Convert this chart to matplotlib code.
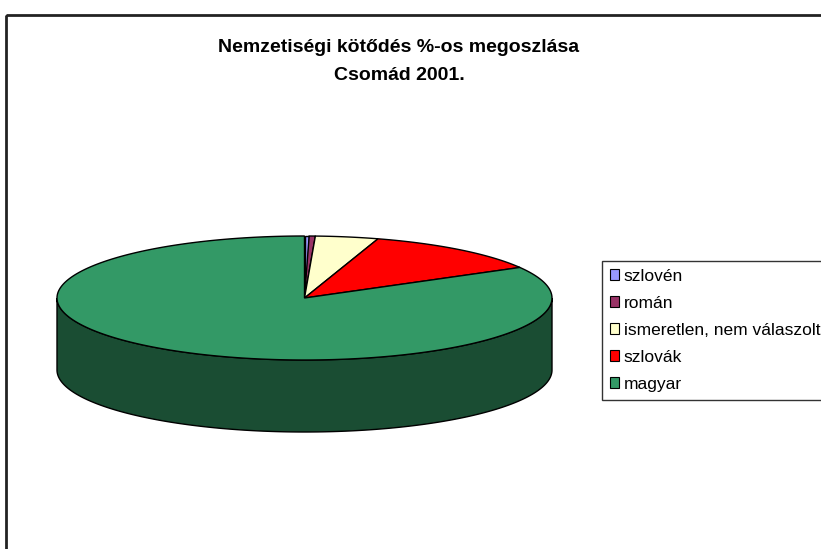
import numpy as np
import matplotlib
matplotlib.use("Agg")
import matplotlib.pyplot as plt
from matplotlib.patches import Polygon, Rectangle
import matplotlib.colors as mcolors

plt.rcParams['font.family'] = ['Liberation Sans', 'DejaVu Sans']

# dane (%)
kategorie = ['szlovén', 'román', 'ismeretlen, nem válaszolt', 'szlovák', 'magyar']
wartosci = [0.3, 0.4, 4.1, 12.0, 83.2]
kolory = ['#9999FF', '#993366', '#FFFFCC', '#FF0000', '#339966']

tytul = ["Nemzetiségi kötődés %-os megoszlása", "Csomád 2001."]

fig = plt.figure(figsize=(8.21, 5.49), dpi=100)
ax = fig.add_axes([0, 0, 1, 1])
ax.set_xlim(0, 821)
ax.set_ylim(549, 0)
ax.axis('off')

# ramka wykresu
ax.add_patch(Rectangle((6, 15), 900, 600, fill=False, edgecolor='#222222', lw=2))

# geometria tortu 3D
cx, cy, a, b, glebokosc = 304.5, 298, 247.5, 62, 72

def punkt(t, dy=0):
    t = np.radians(t)
    return np.column_stack([cx + a * np.cos(t), cy - b * np.sin(t) + dy])

udzialy = np.array(wartosci) / sum(wartosci)
granice = 90 - 360 * np.concatenate([[0], np.cumsum(udzialy)])

# boki (tylko przednia połowa)
for i in range(len(wartosci)):
    t1, t2 = granice[i], granice[i + 1]
    for lo, hi in [(-180, 0), (180, 360), (-540, -360)]:
        s, e = max(t2, lo), min(t1, hi)
        if e > s:
            tt = np.linspace(s, e, 200)
            gora = punkt(tt)
            dol = punkt(tt[::-1], glebokosc)
            ciemny = np.array(mcolors.to_rgb(kolory[i])) * 0.5
            ax.add_patch(Polygon(np.vstack([gora, dol]), closed=True,
                                 facecolor=ciemny, edgecolor='black', lw=1))

# wierzch
uchwyty = []
for i in range(len(wartosci)):
    tt = np.linspace(granice[i], granice[i + 1], 300)
    pts = np.vstack([[cx, cy], punkt(tt)])
    p = Polygon(pts, closed=True, facecolor=kolory[i], edgecolor='black',
                lw=1, label=kategorie[i])
    ax.add_patch(p)
    uchwyty.append(p)

ax.text(399, 47, tytul[0], ha='center', va='center', fontsize=14,
        fontweight='bold')
ax.text(399, 75, tytul[1], ha='center', va='center', fontsize=14,
        fontweight='bold')

leg = ax.legend(handles=uchwyty, loc='upper left',
                bbox_to_anchor=(602 / 821, 1 - 261 / 549),
                frameon=True, fancybox=False, edgecolor='black',
                fontsize=12.5, labelspacing=0.69, handlelength=0.55,
                handleheight=0.55, handletextpad=0.25, borderpad=0.45,
                borderaxespad=0)
leg.get_frame().set_linewidth(1)
for h in leg.legend_handles:
    h.set_linewidth(0.8)

plt.savefig("out.png", format="png")
